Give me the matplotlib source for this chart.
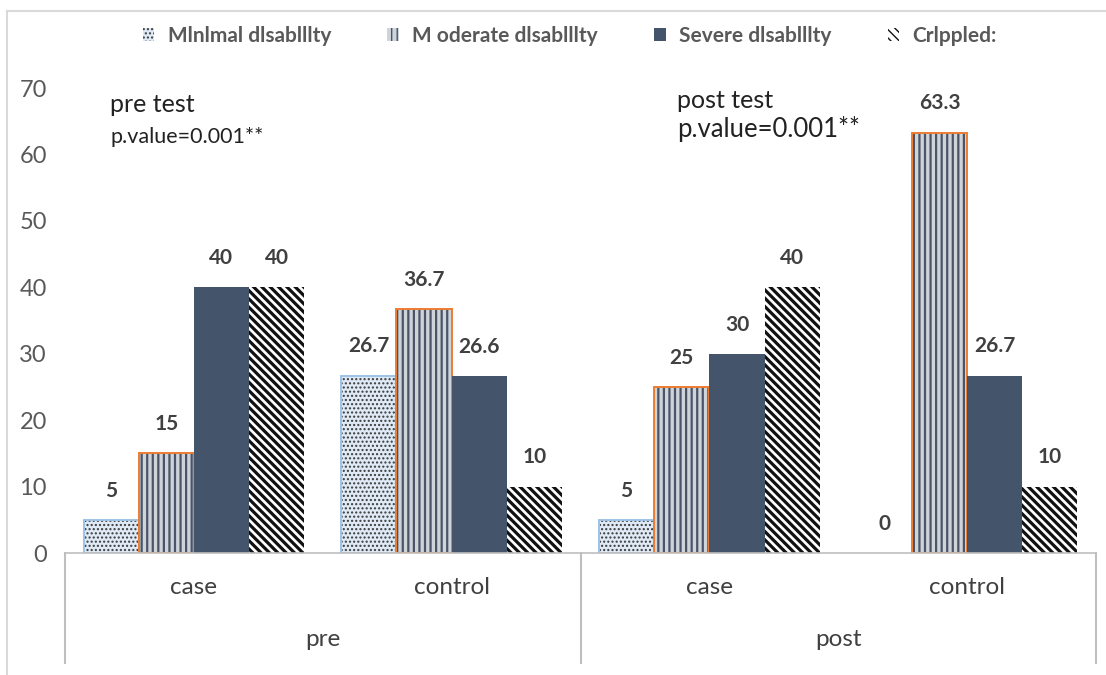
import numpy as np
import matplotlib
matplotlib.use("Agg")
import matplotlib.pyplot as plt
from matplotlib.patches import Patch

plt.rcParams['font.family'] = ['Lato', 'DejaVu Sans']

# data
categories = ['case', 'control', 'case', 'control']
phases = ['pre', 'post']
legend_labels = ['Mlnlmal dlsablllty', 'M oderate dlsablllty', 'Severe dlsablllty', 'Crlppled:']
minimal = [5, 26.7, 5, 0]
moderate = [15, 36.7, 25, 63.3]
severe = [40, 26.6, 30, 26.7]
crippled = [40, 10, 40, 10]
yticks = [0, 10, 20, 30, 40, 50, 60, 70]

values = [minimal, moderate, severe, crippled]

# styles: (face, hatch, hatch colour, border, hatch lw)
styles = [
    ('#dfeaf6', '....', '#3a3a3a', '#9dc3e6', 1.0),
    ('#cfd3da', '|||', '#4a5568', '#ed7d31', 1.6),
    ('#44546a', None, None, '#44546a', 1.0),
    ('white', '\\\\\\\\', '#111111', 'white', 2.3),
]

fig = plt.figure(figsize=(11.06, 6.75), dpi=100)
W, H = 1106, 675
y0, y70 = 553, 88
ax = fig.add_axes([65 / W, (H - y0) / H, (1096 - 65) / W, (y0 - y70) / H])

x = np.arange(len(categories))
width = 0.214
offsets = (np.arange(4) - 1.5) * width

for i, vals in enumerate(values):
    face, hatch, hcol, border, hlw = styles[i]
    pos = x + offsets[i]
    with plt.rc_context({'hatch.linewidth': hlw}):
        bars = ax.bar(pos, vals, width, color=face, hatch=hatch,
                      edgecolor=hcol if hcol else face, linewidth=0)
    for b in bars:
        if hasattr(b, 'set_hatch_linewidth'):
            b.set_hatch_linewidth(hlw)
    if i in (0, 1):
        for xp, v in zip(pos, vals):
            if v > 0:
                ax.bar(xp, v, width, fill=False, edgecolor=border, linewidth=1.4)
    for xp, v in zip(pos, vals):
        ax.annotate(f'{v:g}', (xp, v), xytext=(0, 21), textcoords='offset points',
                    ha='center', va='center', fontsize=15,
                    fontweight='bold', color='#404040')

ax.set_xlim(-0.5, 3.5)
ax.set_ylim(0, 70)
ax.set_yticks(yticks)
ax.tick_params(axis='y', length=0, pad=13, labelsize=17, labelcolor='#595959')
ax.set_xticks([])
for s in ['top', 'right', 'left']:
    ax.spines[s].set_visible(False)
ax.spines['bottom'].set_color('#bfbfbf')
ax.spines['bottom'].set_linewidth(1.2)

# category boxes below the axis
span = y0 - y70
trans = ax.get_xaxis_transform()
for xv in [-0.5, 1.5, 3.5]:
    ax.plot([xv, xv], [0, (y0 - 663) / span], transform=trans, color='#bfbfbf',
            linewidth=1.5, clip_on=False)
for xv, c in zip(x, categories):
    ax.text(xv, (y0 - 588) / span, c, transform=trans, ha='center', va='center',
            fontsize=17.5, color='#404040')
for k, p in enumerate(phases):
    ax.text(0.5 + 2 * k, (y0 - 640) / span, p, transform=trans, ha='center', va='center',
            fontsize=17.5, color='#404040')

# annotations
fig.text(110 / W, 1 - 105 / H, 'pre test', fontsize=18, color='#222222', va='center')
fig.text(110 / W, 1 - 137 / H, 'p.value=0.001**', fontsize=15.5, color='#222222', va='center')
fig.text(677 / W, 1 - 100 / H, 'post test', fontsize=18, color='#222222', va='center')
fig.text(677 / W, 1 - 129 / H, 'p.value=0.001**', fontsize=18.5, color='#222222', va='center')

# outer frame (top and left)
fig.add_artist(plt.Line2D([7 / W, 7 / W], [0, 1 - 11 / H], color='#d9d9d9', linewidth=1.5))
fig.add_artist(plt.Line2D([7 / W, 1], [1 - 11 / H, 1 - 11 / H], color='#d9d9d9', linewidth=1.5))

# legend
handles = []
for i in range(4):
    face, hatch, hcol, border, hlw = styles[i]
    handles.append(Patch(facecolor=face, hatch=hatch, edgecolor=hcol if hcol else face,
                         linewidth=0))
leg = fig.legend(handles, legend_labels, loc='center left', ncol=4,
                 bbox_to_anchor=(128 / W, 1 - 36 / H), frameon=False,
                 fontsize=15, handlelength=0.55, handleheight=0.55,
                 columnspacing=2.7, handletextpad=0.65, borderpad=0.2)
for t in leg.get_texts():
    t.set_color('#595959')
    t.set_fontweight('bold')

fig.savefig('out.png', dpi=100)
